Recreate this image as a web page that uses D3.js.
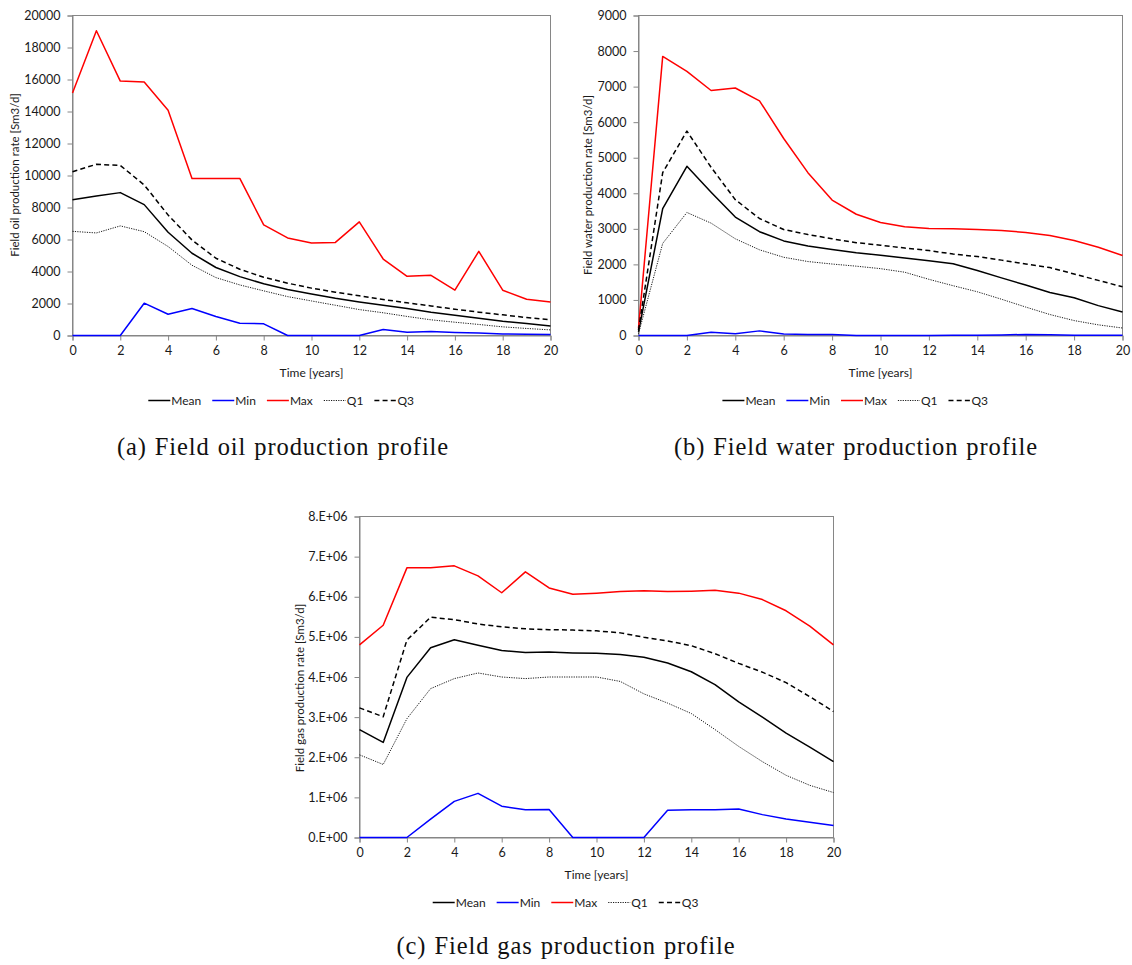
<!DOCTYPE html>
<html>
<head>
<meta charset="utf-8">
<script src="https://cdn.jsdelivr.net/npm/d3@7"></script>
<style>
  html, body { margin: 0; padding: 0; background: #fff; }
  svg { display: block; }
  .tick text { font-family: Lato, "Open Sans", sans-serif; fill: #1a1a1a; }
</style>
</head>
<body>
<svg id="chart" width="1132" height="965"></svg>
<script>
// Simulation years
const years = d3.range(0, 21);

// Field oil production rate [Sm3/d]
const oilMean = [8490, 8720, 8930, 8180, 6450, 5140, 4250, 3680, 3230, 2870, 2600, 2330, 2100, 1890, 1690, 1460, 1270, 1080, 890, 750, 600];
const oilMin  = [0, 0, 0, 2020, 1330, 1690, 1190, 770, 730, 0, 0, 0, 0, 370, 210, 250, 190, 150, 100, 80, 60];
const oilMax  = [15150, 19050, 15900, 15850, 14080, 9820, 9820, 9820, 6910, 6100, 5780, 5820, 7100, 4780, 3700, 3760, 2830, 5260, 2830, 2270, 2100];
const oilQ1   = [6510, 6410, 6850, 6490, 5560, 4390, 3620, 3160, 2790, 2430, 2160, 1890, 1620, 1420, 1190, 980, 830, 690, 540, 440, 350];
const oilQ3   = [10240, 10700, 10630, 9410, 7530, 5970, 4830, 4140, 3640, 3270, 2960, 2710, 2480, 2250, 2040, 1850, 1640, 1460, 1290, 1120, 980];

// Field water production rate [Sm3/d]
const waterMean = [100, 3570, 4760, 4030, 3330, 2920, 2660, 2520, 2420, 2330, 2260, 2180, 2100, 2020, 1830, 1620, 1420, 1210, 1060, 840, 660];
const waterMin  = [0, 0, 0, 90, 50, 130, 40, 30, 25, 0, 0, 0, 0, 10, 10, 15, 30, 20, 10, 5, 5];
const waterMax  = [200, 7850, 7430, 6890, 6960, 6600, 5540, 4580, 3810, 3410, 3180, 3060, 3010, 3000, 2980, 2950, 2900, 2810, 2670, 2480, 2250];
const waterQ1   = [50, 2590, 3460, 3160, 2720, 2410, 2200, 2080, 2010, 1950, 1880, 1780, 1580, 1400, 1230, 1020, 800, 590, 420, 300, 210];
const waterQ3   = [150, 4580, 5750, 4730, 3820, 3290, 2980, 2840, 2720, 2610, 2540, 2460, 2390, 2290, 2220, 2120, 2010, 1910, 1730, 1550, 1370];

// Field gas production rate [Sm3/d]
const gasMean = [2.69e6, 2.37e6, 3.99e6, 4.73e6, 4.93e6, 4.79e6, 4.66e6, 4.61e6, 4.62e6, 4.60e6, 4.59e6, 4.56e6, 4.49e6, 4.35e6, 4.13e6, 3.81e6, 3.38e6, 3.00e6, 2.60e6, 2.25e6, 1.89e6];
const gasMin  = [0, 0, 0, 0.46e6, 0.90e6, 1.10e6, 0.78e6, 0.69e6, 0.70e6, 0, 0, 0, 0, 0.68e6, 0.69e6, 0.69e6, 0.71e6, 0.57e6, 0.46e6, 0.38e6, 0.30e6];
const gasMax  = [4.80e6, 5.29e6, 6.72e6, 6.72e6, 6.77e6, 6.52e6, 6.10e6, 6.62e6, 6.22e6, 6.06e6, 6.09e6, 6.13e6, 6.15e6, 6.13e6, 6.14e6, 6.16e6, 6.09e6, 5.93e6, 5.65e6, 5.27e6, 4.80e6];
const gasQ1   = [2.06e6, 1.82e6, 2.96e6, 3.71e6, 3.96e6, 4.10e6, 4.00e6, 3.96e6, 4.00e6, 4.00e6, 4.00e6, 3.89e6, 3.58e6, 3.35e6, 3.09e6, 2.69e6, 2.27e6, 1.89e6, 1.55e6, 1.30e6, 1.12e6];
const gasQ3   = [3.23e6, 3.01e6, 4.92e6, 5.49e6, 5.43e6, 5.32e6, 5.25e6, 5.20e6, 5.18e6, 5.17e6, 5.15e6, 5.10e6, 4.99e6, 4.90e6, 4.78e6, 4.58e6, 4.34e6, 4.12e6, 3.86e6, 3.51e6, 3.14e6];

// Axis ticks
const xTicks = d3.range(0, 21, 2);
const oilTicks = d3.range(0, 20001, 2000);
const waterTicks = d3.range(0, 9001, 1000);
const gasTicks = d3.range(0, 8.01e6, 1e6);

// Series names, in legend order
const seriesNames = ["Mean", "Min", "Max", "Q1", "Q3"];

const styles = {
  Mean: { stroke: "#000000", width: 1.5, dash: null },
  Min:  { stroke: "#0000ff", width: 1.5, dash: null },
  Max:  { stroke: "#ff0000", width: 1.5, dash: null },
  Q1:   { stroke: "#1a1a1a", width: 1,   dash: "1.2,1.2" },
  Q3:   { stroke: "#000000", width: 1.5, dash: "5,3.2" }
};

const AXIS = "#868686";
const svg = d3.select("#chart");

function sciLabel(v) {
  if (v === 0) return "0.E+00";
  const e = Math.floor(Math.log10(v));
  const m = Math.round(v / Math.pow(10, e));
  return m + ".E+" + String(e).padStart(2, "0");
}

function drawPanel(p) {
  const g = svg.append("g");
  const x = d3.scaleLinear().domain([0, 20]).range([p.left, p.right]);
  const y = d3.scaleLinear().domain([0, p.yMax]).range([p.bottom, p.top]);

  // plot frame (top and right edges)
  g.append("rect")
    .attr("x", p.left).attr("y", p.top)
    .attr("width", p.right - p.left).attr("height", p.bottom - p.top)
    .attr("fill", "none").attr("stroke", AXIS).attr("stroke-width", 1);

  const xAxis = g.append("g")
    .attr("transform", `translate(0,${p.bottom})`)
    .call(d3.axisBottom(x).tickValues(xTicks).tickSize(5).tickPadding(6).tickFormat(d3.format("d")));
  xAxis.select(".domain").attr("stroke", AXIS);
  xAxis.selectAll(".tick line").attr("stroke", AXIS);
  xAxis.selectAll(".tick text").attr("font-size", 12.5);

  const yAxis = g.append("g")
    .attr("transform", `translate(${p.left},0)`)
    .call(d3.axisLeft(y).tickValues(p.ticks).tickSize(5).tickPadding(7).tickFormat(p.format));
  yAxis.select(".domain").attr("stroke", AXIS);
  yAxis.selectAll(".tick line").attr("stroke", AXIS);
  yAxis.selectAll(".tick text").attr("font-size", 12.5);

  // axis titles
  g.append("text")
    .attr("x", (p.left + p.right) / 2).attr("y", p.bottom + 41)
    .attr("text-anchor", "middle")
    .attr("font-family", "Lato, 'Open Sans', sans-serif").attr("font-size", 12)
    .attr("fill", "#1a1a1a")
    .text("Time [years]");

  g.append("text")
    .attr("transform", `translate(${p.yTitleX},${p.yTitleY}) rotate(-90)`)
    .attr("text-anchor", "middle")
    .attr("font-family", "Lato, 'Open Sans', sans-serif").attr("font-size", 11.5)
    .attr("fill", "#1a1a1a")
    .text(p.yTitle);

  // series
  const line = d3.line()
    .x((d, i) => x(years[i]))
    .y(d => y(d));

  seriesNames.forEach(name => {
    const s = styles[name];
    g.append("path")
      .datum(p.series[name])
      .attr("d", line)
      .attr("fill", "none")
      .attr("stroke", s.stroke)
      .attr("stroke-width", s.width)
      .attr("stroke-linejoin", "round")
      .attr("stroke-dasharray", s.dash);
  });

  // legend
  const lg = g.append("g").attr("transform", `translate(${p.legendX},${p.legendY})`);
  let cx = 0;
  seriesNames.forEach(name => {
    const s = styles[name];
    lg.append("line")
      .attr("x1", cx).attr("x2", cx + 22).attr("y1", 0).attr("y2", 0)
      .attr("stroke", s.stroke).attr("stroke-width", s.width)
      .attr("stroke-dasharray", s.dash);
    const t = lg.append("text")
      .attr("x", cx + 23).attr("y", 4.3)
      .attr("font-family", "Lato, 'Open Sans', sans-serif").attr("font-size", 12)
      .attr("fill", "#1a1a1a")
      .text(name);
    cx += 23 + t.node().getComputedTextLength() + 11;
  });

  // caption
  svg.append("text")
    .attr("x", p.capX).attr("y", p.capY)
    .attr("text-anchor", "middle")
    .attr("font-family", "'Liberation Serif', 'DejaVu Serif', serif")
    .attr("font-size", 24.5)
    .attr("letter-spacing", 0.9)
    .attr("word-spacing", 1)
    .attr("fill", "#111")
    .text(p.caption);
}

drawPanel({
  left: 72.5, right: 550.5, top: 15.5, bottom: 335.5,
  yMax: 20000, ticks: oilTicks, format: d3.format("d"),
  yTitle: "Field oil production rate [Sm3/d]", yTitleX: 18.5, yTitleY: 175,
  series: { Mean: oilMean, Min: oilMin, Max: oilMax, Q1: oilQ1, Q3: oilQ3 },
  legendX: 148.3, legendY: 400.5,
  caption: "(a) Field oil production profile", capX: 283, capY: 455
});

drawPanel({
  left: 638.5, right: 1122.5, top: 15.5, bottom: 335.5,
  yMax: 9000, ticks: waterTicks, format: d3.format("d"),
  yTitle: "Field water production rate [Sm3/d]", yTitleX: 592, yTitleY: 185,
  series: { Mean: waterMean, Min: waterMin, Max: waterMax, Q1: waterQ1, Q3: waterQ3 },
  legendX: 722.4, legendY: 400.5,
  caption: "(b) Field water production profile", capX: 856, capY: 455
});

drawPanel({
  left: 359.5, right: 833.5, top: 516.5, bottom: 837.5,
  yMax: 8e6, ticks: gasTicks, format: sciLabel,
  yTitle: "Field gas production rate [Sm3/d]", yTitleX: 303.5, yTitleY: 688,
  series: { Mean: gasMean, Min: gasMin, Max: gasMax, Q1: gasQ1, Q3: gasQ3 },
  legendX: 432.7, legendY: 902.5,
  caption: "(c) Field gas production profile", capX: 566, capY: 954
});
</script>
</body>
</html>
